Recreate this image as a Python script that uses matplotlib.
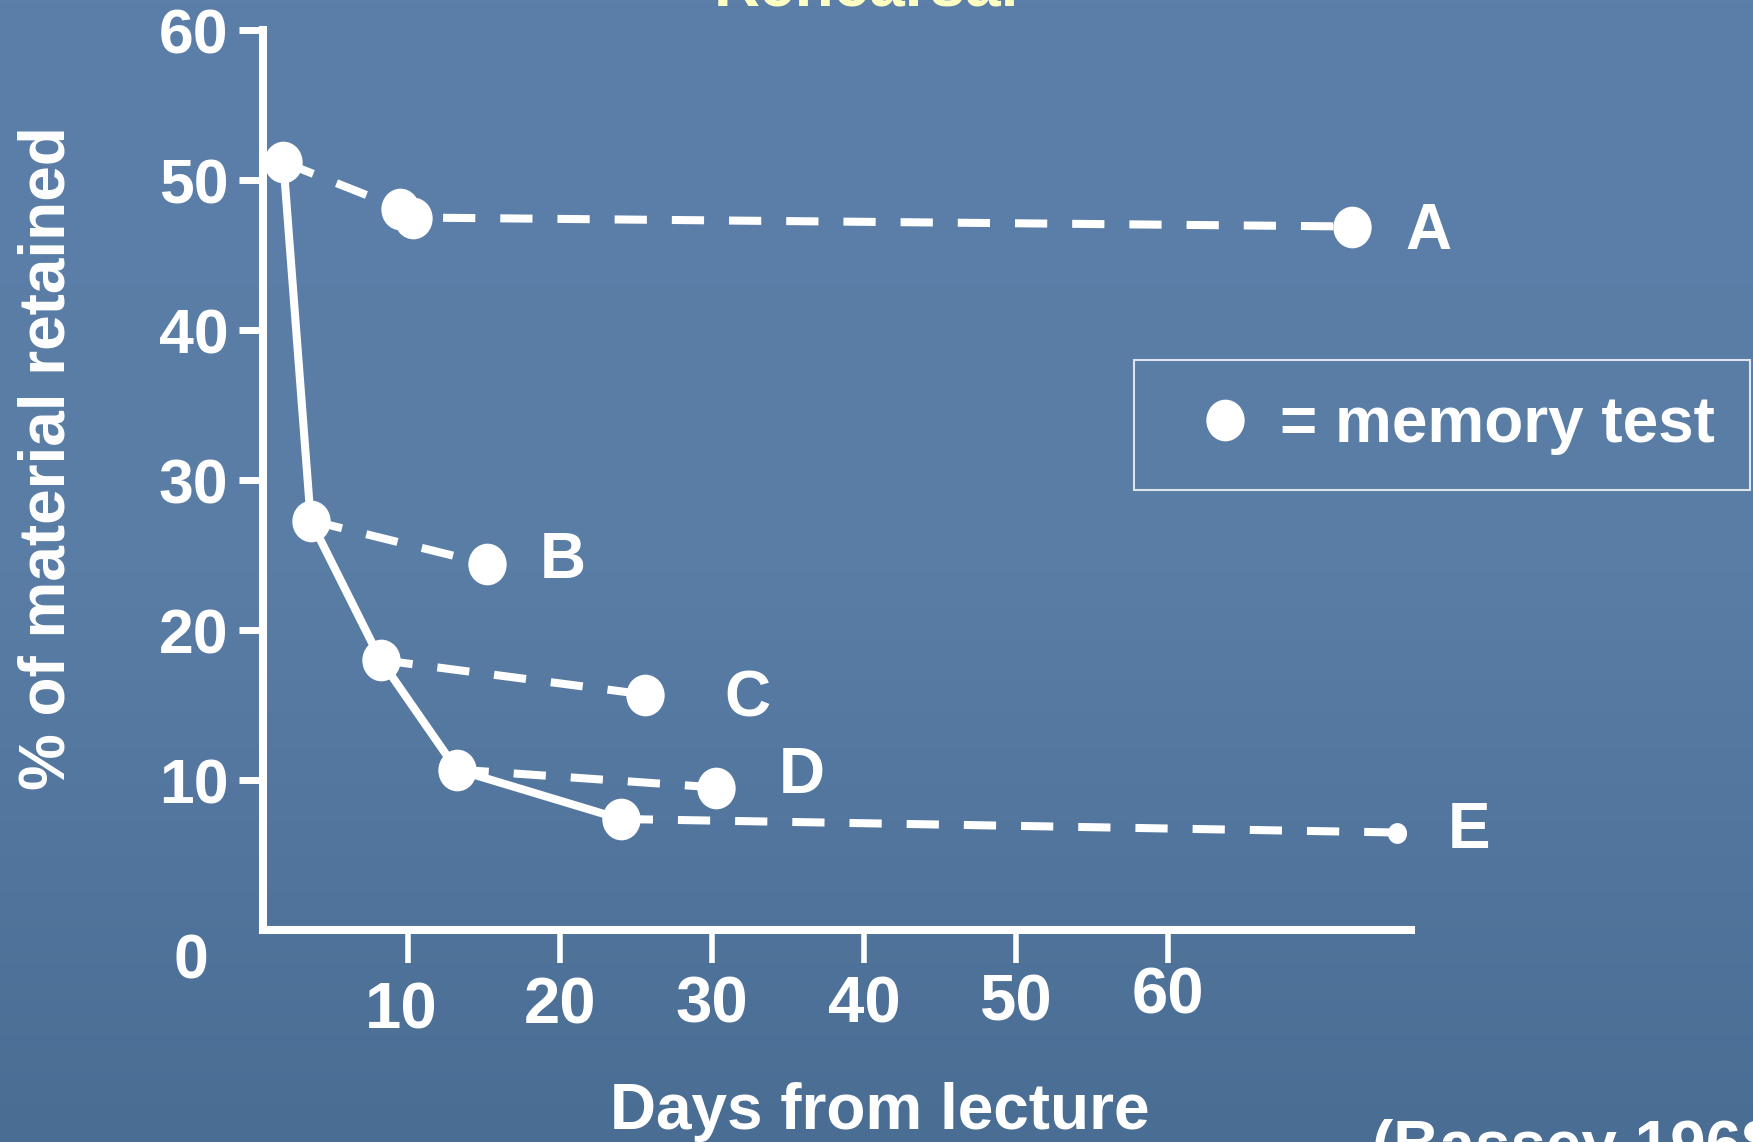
"""Rehearsal slide: % of lecture material retained vs days, with memory tests (Bassey 1968)."""
import numpy as np
import matplotlib
matplotlib.use('Agg')
import matplotlib.pyplot as plt
import matplotlib.transforms as mtransforms
from matplotlib import font_manager
from matplotlib.lines import Line2D
from matplotlib.path import Path

# --- data --------------------------------------------------------------------
# solid curve: retention without rehearsal, each point is a memory test
days_solid = [1.8, 3.6, 8.2, 13.2, 24.0]
pct_solid = [51.2, 27.3, 18.0, 10.7, 7.4]

# dashed branches A-E: retention after a rehearsal test
branch_names = ['A', 'B', 'C', 'D', 'E']
branch_days = [
    [1.8, 9.5, 10.3, 72.1],
    [3.6, 15.2],
    [8.2, 25.6],
    [13.2, 30.3],
    [24.0, 75.1],
]
branch_pct = [
    [51.2, 48.1, 47.5, 46.9],
    [27.3, 24.4],
    [18.0, 15.7],
    [10.7, 9.5],
    [7.4, 6.5],
]

x_ticks = [10, 20, 30, 40, 50, 60]
y_ticks = [10, 20, 30, 40, 50, 60]

# label offsets (points) from the last point of each branch
label_offsets = {'A': (39, -16), 'B': (38, -10), 'C': (57, -16), 'D': (45, -4), 'E': (36, -11)}
# per-tick label pads (points) for the uneven x labels
x_label_pads = [13, 9.5, 8.5, 8.5, 7, 2.5]

W, H, DPI = 1753, 1142, 100
WHITE = 'white'
FS = 46
MS = 30
# the slide's dots are a touch taller than wide
ELLIPSE = Path.unit_circle().transformed(mtransforms.Affine2D().scale(0.92, 1.0))

names = {f.name for f in font_manager.fontManager.ttflist}
NARROW = 'Liberation Sans Narrow' if 'Liberation Sans Narrow' in names else 'Liberation Sans'
plt.rcParams['font.family'] = ['Liberation Sans', 'DejaVu Sans']
plt.rcParams['font.weight'] = 'bold'

fig = plt.figure(figsize=(W / DPI, H / DPI), dpi=DPI)

# background: blue slide gradient
bg = fig.add_axes([0, 0, 1, 1], zorder=-10)
top = np.array([0x5b, 0x7f, 0xa8]) / 255
mid = np.array([0x5a, 0x7d, 0xa6]) / 255
bot = np.array([0x4a, 0x6d, 0x94]) / 255
t = np.linspace(0, 1, 256)[:, None]
grad = np.where(t < 0.5, top + (mid - top) * (t / 0.5), mid + (bot - mid) * ((t - 0.5) / 0.5))
bg.imshow(grad[:, None, :], aspect='auto', extent=[0, 1, 0, 1])
bg.axis('off')

# main axes: spine at x=263px, origin y=930px, top 30px, right end 1411px
ax = fig.add_axes([263 / W, (H - 930) / H, (1411 - 263) / W, 900 / H])
ax.set_facecolor('none')
ax.set_xlim(0.46, 76.0)
ax.set_ylim(0, 60)

for sp in ['top', 'right']:
    ax.spines[sp].set_visible(False)
for sp in ['left', 'bottom']:
    ax.spines[sp].set_color(WHITE)
    ax.spines[sp].set_linewidth(5.8)
    ax.spines[sp].set_capstyle('projecting')

# dashed rehearsal branches
for d, p in zip(branch_days, branch_pct):
    ax.plot(d, p, color=WHITE, lw=5.8, dashes=(4.0, 3.1), dash_capstyle='butt',
            zorder=2, clip_on=False)

# solid forgetting curve
ax.plot(days_solid, pct_solid, color=WHITE, lw=5.8, zorder=3, clip_on=False)

# memory-test markers
for name, d, p in zip(branch_names, branch_days, branch_pct):
    ms_last = 15 if name == 'E' else MS
    ax.plot(d[:-1], p[:-1], ls='none', marker=ELLIPSE, color=WHITE, ms=MS, mec='none',
            zorder=4, clip_on=False)
    ax.plot(d[-1:], p[-1:], ls='none', marker=ELLIPSE, color=WHITE, ms=ms_last, mec='none',
            zorder=4, clip_on=False)
    dx, dy = label_offsets[name]
    ax.annotate(name, (d[-1], p[-1]), xytext=(dx, dy), textcoords='offset points',
                ha='left', va='baseline', fontsize=FS, fontweight='bold', color=WHITE,
                annotation_clip=False)

# ticks
ax.set_xticks(x_ticks)
ax.set_xticklabels([str(v) for v in x_ticks], fontsize=47, fontweight='bold',
                   color=WHITE, family=[NARROW, 'Liberation Sans'])
ax.set_yticks(y_ticks)
ax.set_yticklabels([str(v) for v in y_ticks], fontsize=45, fontweight='bold', color=WHITE)
ax.tick_params(axis='x', direction='out', length=24, width=4, color=WHITE)
ax.tick_params(axis='y', direction='out', length=17, width=5, color=WHITE, pad=8)
for tick, pad in zip(ax.xaxis.get_major_ticks(), x_label_pads):
    tick.set_pad(pad)
first = ax.xaxis.get_major_ticks()[0].label1
first.set_transform(first.get_transform()
                    + mtransforms.ScaledTranslation(-5 / 72, 0, fig.dpi_scale_trans))

# the lone "0" below-left of the origin
ax.annotate('0', (0, 0), xycoords='axes fraction', xytext=(-52, -23),
            textcoords='offset points', ha='center', va='center',
            fontsize=45, fontweight='bold', color=WHITE, annotation_clip=False)

ax.set_ylabel('% of material retained', fontsize=FS, fontweight='bold', color=WHITE)
ax.yaxis.label.set_va('center')
ax.yaxis.set_label_coords(-0.188, 0.524)
ax.set_xlabel('Days from lecture', fontsize=FS, fontweight='bold', color=WHITE)
ax.xaxis.label.set_va('baseline')
ax.xaxis.set_label_coords(0.537, -0.221)

# legend box
handle = Line2D([], [], marker=ELLIPSE, ls='none', color=WHITE, ms=MS, mec='none')
leg = fig.legend([handle], ['= memory test'], loc='center',
                 bbox_to_anchor=((1137 + 1747) / 2 / W, 1 - (358 + 492) / 2 / H),
                 prop={'size': FS, 'weight': 'bold', 'family': 'Liberation Sans'},
                 labelcolor=WHITE, handlelength=1.72, handletextpad=0.0,
                 borderpad=0.55, borderaxespad=0, fancybox=False, frameon=True)
leg.get_frame().set_facecolor('none')
leg.get_frame().set_edgecolor(WHITE)
leg.get_frame().set_linewidth(1.5)

# title cut off at the top, citation cut off at bottom right (as on the slide)
fig.text(866 / W, 1 - 6 / H, 'Rehearsal', ha='center', va='baseline',
         fontsize=FS, fontweight='bold', color='#FFFFC4')
fig.text(1372 / W, (H - 1166) / H, '(Bassey 1968)', ha='left', va='baseline',
         fontsize=FS, fontweight='bold', color=WHITE)

fig.savefig('out.png', dpi=DPI)
